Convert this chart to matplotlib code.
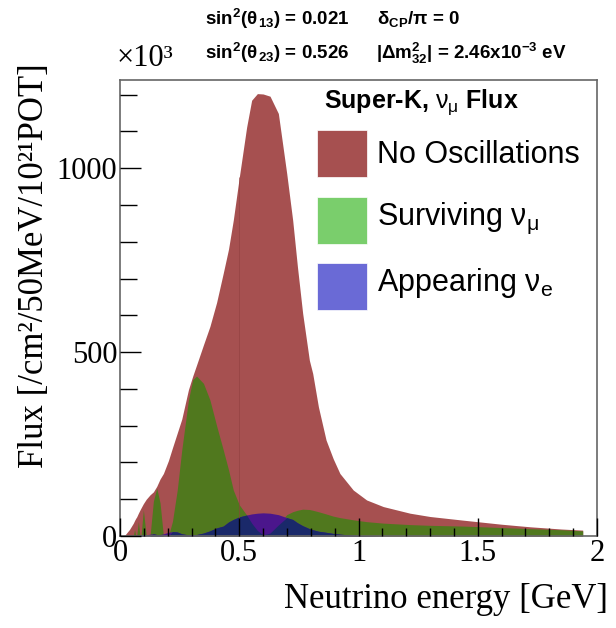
import matplotlib
matplotlib.use("Agg")
import matplotlib.pyplot as plt
import numpy as np
from matplotlib.patches import Rectangle

plt.rcParams['mathtext.fontset'] = 'custom'
plt.rcParams['mathtext.rm'] = 'Liberation Sans'
plt.rcParams['mathtext.bf'] = 'Liberation Sans:bold'
plt.rcParams['mathtext.it'] = 'Liberation Sans:italic'
plt.rcParams['mathtext.sf'] = 'Liberation Sans'

# ---------------- data (flux in units of 10^3) ----------------
energy = [0.0, 0.02, 0.04, 0.056, 0.061, 0.066, 0.07, 0.077, 0.084, 0.088, 0.098, 0.11,
          0.126, 0.14, 0.154, 0.168, 0.182, 0.203, 0.22, 0.24, 0.259, 0.287, 0.305, 0.321,
          0.35, 0.377, 0.405, 0.433, 0.455, 0.475, 0.5, 0.531, 0.552, 0.576, 0.6, 0.629,
          0.664, 0.699, 0.724, 0.744, 0.766, 0.794, 0.808, 0.832, 0.864, 0.894, 0.922, 0.978,
          1.034, 1.104, 1.216, 1.3, 1.44, 1.6, 1.72, 1.85, 1.94]
no_osc = [0, 2, 18, 35, 42, 48, 52, 62, 71, 76, 88, 100,
          112, 120, 135, 155, 170, 205, 240, 280, 318, 398, 435, 465,
          520, 570, 635, 715, 780, 859, 975, 1112, 1185, 1203, 1202, 1196,
          1149, 986, 859, 732, 605, 478, 442, 351, 261, 210, 170, 125,
          98, 80, 62, 53, 43, 32, 25, 19, 16]
surviving_numu = [0, 0, 0, 0, 18, 0, 0, 39, 0, 0, 71, 0,
                  0, 95, 130, 90, 0, 0, 40, 125, 234, 370, 425, 435,
                  415, 370, 300, 234, 180, 125, 85, 57, 35, 15, 3, 8,
                  30, 58, 66, 70, 73, 72, 70, 66, 60, 54, 50, 44,
                  39, 35, 31, 29, 27, 23, 20, 17, 14]
appearing_nue = [0, 0, 0, 1, 2, 2, 2, 2, 3, 3, 2, 3,
                 5, 6, 4, 4, 6, 10, 12, 11, 6, 3, 3, 4,
                 8, 14, 22, 27, 38, 45, 52, 57, 60, 62, 63, 62,
                 58, 50, 45, 36, 28, 20, 17, 13, 10, 7, 5, 2,
                 1, 0, 0, 0, 0, 0, 0, 0, 0]

legend_labels = ["No Oscillations", r"Surviving $\mathrm{\nu_{\mu}}$", r"Appearing $\mathrm{\nu_{e}}$"]

E = np.array(energy)
R = np.array(no_osc)
G = np.array(surviving_numu)
B = np.array(appearing_nue)

c_red = '#a65050'
c_olive = '#50781e'
c_navy = '#1a296a'
c_purple = '#4b168c'
leg_colors = ['#a65050', '#7ace6c', '#6a6ad6']

W, H = 616, 628
fig = plt.figure(figsize=(W / 100, H / 100), dpi=100)
ax = fig.add_axes([120 / W, 1 - 536 / H, (597 - 120) / W, (536 - 80) / H])

ax.fill_between(E, 0, R, color=c_red, lw=0)
ax.vlines(0.5, 0, np.interp(0.5, E, R), color='#913f3f', lw=0.6, alpha=0.7)
ax.fill_between(E, 0, G, color=c_olive, lw=0)
ax.fill_between(E, 0, B, color=c_purple, lw=0)
ax.fill_between(E, 0, np.minimum(B, G), color=c_navy, lw=0)

ax.set_xlim(0, 2)
ax.set_ylim(0, 1240)
ax.set_xticks([0, 0.5, 1, 1.5, 2])
ax.set_xticklabels(['0', '0.5', '1', '1.5', '2'])
ax.set_xticks(np.arange(0.1, 2.0, 0.1), minor=True)
ax.set_yticks([0, 500, 1000])
ax.set_yticklabels(['0', '500', '1000'])
ax.set_yticks(np.arange(100, 1240, 100), minor=True)
ax.tick_params(axis='x', which='major', direction='in', length=13, width=1, labelsize=22, pad=2)
ax.tick_params(axis='x', which='minor', direction='in', length=6, width=1)
ax.tick_params(axis='y', which='major', direction='in', length=15, width=1, labelsize=22, pad=2)
ax.tick_params(axis='y', which='minor', direction='in', length=12, width=1)
for lab in ax.get_xticklabels() + ax.get_yticklabels():
    lab.set_family('Liberation Serif')
for s in ax.spines.values():
    s.set_color('#666666')
    s.set_linewidth(1.2)
ax.set_axisbelow(False)

def fx(px):
    return px / W

def fy(py):
    return 1 - py / H

serif = 'Liberation Serif'
sans = ['Liberation Sans', 'DejaVu Sans']
fig.text(fx(608), fy(600), "Neutrino energy [GeV]", family=serif, fontsize=25, ha='right', va='center')
fig.text(fx(35), fy(266), "Flux [/cm²/50MeV/10²¹POT]", family=serif, fontsize=25,
         rotation=90, ha='center', va='center')
fig.text(fx(117), fy(58), "×10³", family=serif, fontsize=22, ha='left', va='center')

fs_top = 13.5
top_kw = dict(family=sans, fontsize=fs_top, fontweight='bold', ha='left', va='center')
fig.text(fx(205), fy(19), r"sin$^{\mathbf{2}}$(θ$_{\mathbf{\,13}}$) = 0.021", **top_kw)
fig.text(fx(377), fy(19), r"δ$_{\mathbf{CP}}$/π = 0", **top_kw)
fig.text(fx(205), fy(53), r"sin$^{\mathbf{2}}$(θ$_{\mathbf{\,23}}$) = 0.526", **top_kw)
fig.text(fx(376), fy(53), r"|Δm$^{\mathbf{2}}_{\mathbf{32}}$| = 2.46x10$^{\mathbf{-3}}$ eV", **top_kw)

# legend (manual)
fig.text(fx(324), fy(102), r"Super-K, $\mathrm{\nu_{\mu}}$ Flux", family=sans, fontweight='bold',
         fontsize=18, ha='left', va='center')
box_tops = [130, 197, 263]
text_y = [155, 218, 283]
for top, ty, col, lab in zip(box_tops, text_y, leg_colors, legend_labels):
    fig.patches.append(Rectangle((fx(317), fy(top + 47)), 50 / W, 47 / H,
                                 transform=fig.transFigure, facecolor=col,
                                 edgecolor='white', lw=0.5))
    fig.text(fx(377), fy(ty), lab, family='Liberation Sans', fontsize=22, ha='left', va='center')

fig.savefig("out.png", dpi=100)
